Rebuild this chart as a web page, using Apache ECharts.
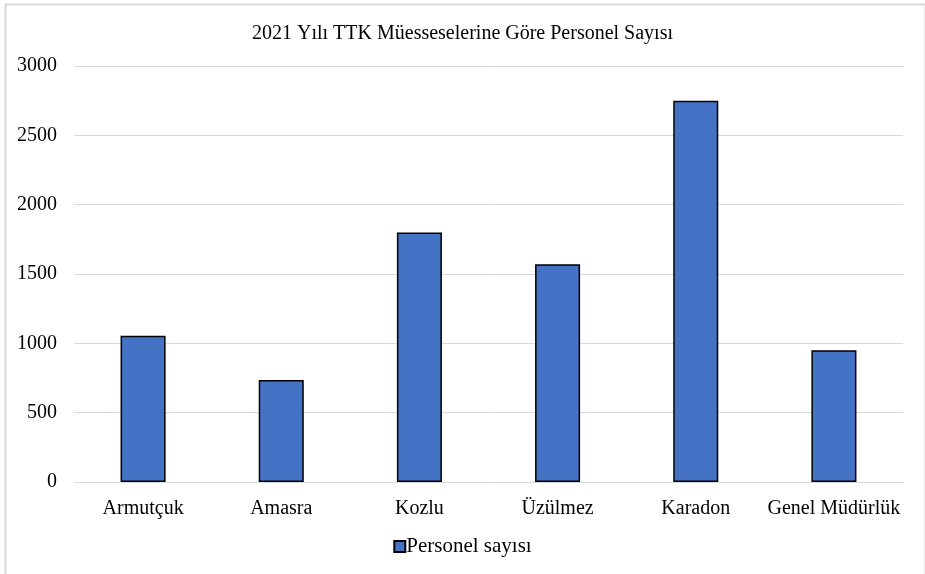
<!DOCTYPE html>
<html>
<head>
<meta charset="utf-8">
<script src="https://cdn.jsdelivr.net/npm/echarts@6/dist/echarts.min.js"></script>
<style>html,body{margin:0;padding:0;background:#fff}#c{width:925px;height:574px}</style>
</head>
<body>
<div id="c"></div>
<script>
const categories = ['Armutçuk', 'Amasra', 'Kozlu', 'Üzülmez', 'Karadon', 'Genel Müdürlük'];
const personel = [1055, 735, 1800, 1570, 2750, 950];
const yTicks = [0, 500, 1000, 1500, 2000, 2500, 3000];

const chart = echarts.init(document.getElementById('c'), null, {renderer: 'canvas'});
const font = '"Liberation Serif", "Times New Roman", serif';
chart.setOption({
  animation: false,
  textStyle: {fontFamily: font},
  graphic: [{
    type: 'rect', left: 3, top: 2, z: 100, silent: true,
    shape: {x: 0, y: 0, width: 920, height: 580},
    style: {fill: 'none', stroke: '#d9d9d9', lineWidth: 2}
  }],
  title: {
    text: '2021 Yılı TTK Müesseselerine Göre Personel Sayısı',
    left: 'center', top: 19,
    textStyle: {fontFamily: font, fontSize: 20, fontWeight: 'normal', color: '#000'}
  },
  legend: {
    bottom: 12, left: 'center',
    itemWidth: 11, itemHeight: 11, itemGap: 4,
    textStyle: {fontFamily: font, fontSize: 21, color: '#000', padding: [0,0,0,-4]},
    data: [{name: 'Personel sayısı', icon: 'rect'}]
  },
  grid: {left: 74, right: 22, top: 66, bottom: 92, containLabel: false},
  xAxis: {
    type: 'category', data: categories,
    axisLine: {lineStyle: {color: '#d9d9d9', width: 1}},
    axisTick: {show: false},
    axisLabel: {fontFamily: font, fontSize: 20, color: '#000', margin: 17, interval: 0}
  },
  yAxis: {
    type: 'value', min: yTicks[0], max: yTicks[yTicks.length-1], interval: 500,
    axisLine: {show: false}, axisTick: {show: false},
    splitLine: {lineStyle: {color: '#d9d9d9', width: 1}},
    axisLabel: {fontFamily: font, fontSize: 20, color: '#000', margin: 17, formatter: v => String(v)}
  },
  series: [{
    name: 'Personel sayısı', type: 'bar', data: personel,
    barWidth: '32.6%',
    itemStyle: {color: '#4472c4', borderColor: '#000', borderWidth: 1.5}
  }]
});
</script>
</body>
</html>
